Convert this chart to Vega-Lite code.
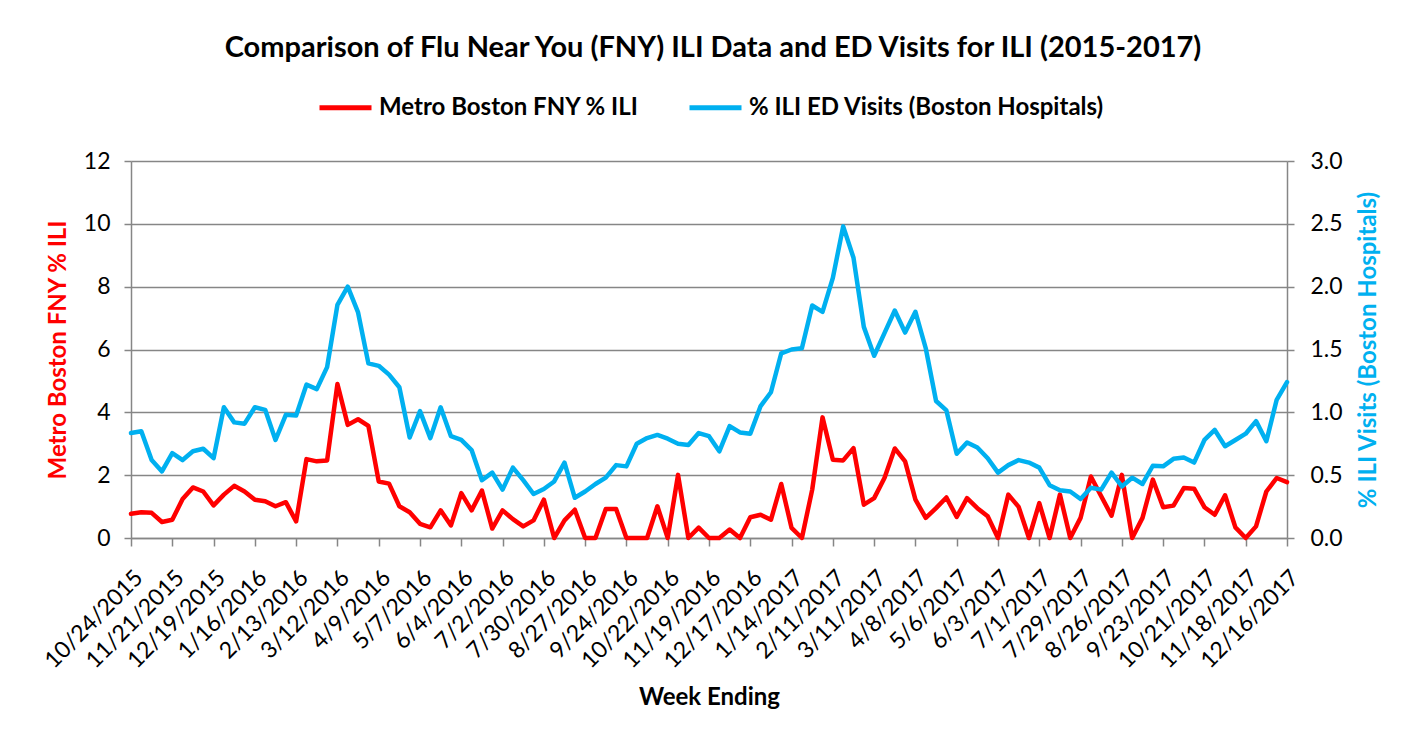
{
  "$schema": "https://vega.github.io/schema/vega-lite/v6.json",
  "width": 1156,
  "height": 377,
  "autosize": "none",
  "padding": {"left": 131, "top": 161, "right": 136, "bottom": 204},
  "background": "white",
  "title": {
    "text": "Comparison of Flu Near You (FNY) ILI Data and ED Visits for ILI (2015-2017)",
    "fontSize": 29,
    "font": "Lato",
    "fontWeight": "bold",
    "color": "#000000",
    "anchor": "middle",
    "dx": 4,
    "offset": 16
  },
  "data": {
    "values": [
      {"week": "10/24/2015", "fny": 0.77, "ed": 0.835},
      {"week": "10/31/2015", "fny": 0.82, "ed": 0.85},
      {"week": "11/7/2015", "fny": 0.80, "ed": 0.62},
      {"week": "11/14/2015", "fny": 0.51, "ed": 0.53},
      {"week": "11/21/2015", "fny": 0.58, "ed": 0.675},
      {"week": "11/28/2015", "fny": 1.24, "ed": 0.62},
      {"week": "12/5/2015", "fny": 1.61, "ed": 0.69},
      {"week": "12/12/2015", "fny": 1.48, "ed": 0.71},
      {"week": "12/19/2015", "fny": 1.04, "ed": 0.635},
      {"week": "12/26/2015", "fny": 1.38, "ed": 1.04},
      {"week": "1/2/2016", "fny": 1.66, "ed": 0.92},
      {"week": "1/9/2016", "fny": 1.48, "ed": 0.91},
      {"week": "1/16/2016", "fny": 1.22, "ed": 1.04},
      {"week": "1/23/2016", "fny": 1.17, "ed": 1.02},
      {"week": "1/30/2016", "fny": 1.01, "ed": 0.78},
      {"week": "2/6/2016", "fny": 1.14, "ed": 0.98},
      {"week": "2/13/2016", "fny": 0.53, "ed": 0.975},
      {"week": "2/20/2016", "fny": 2.51, "ed": 1.22},
      {"week": "2/27/2016", "fny": 2.44, "ed": 1.185},
      {"week": "3/5/2016", "fny": 2.47, "ed": 1.36},
      {"week": "3/12/2016", "fny": 4.90, "ed": 1.855},
      {"week": "3/19/2016", "fny": 3.60, "ed": 2.0},
      {"week": "3/26/2016", "fny": 3.78, "ed": 1.795},
      {"week": "4/2/2016", "fny": 3.57, "ed": 1.39},
      {"week": "4/9/2016", "fny": 1.80, "ed": 1.37},
      {"week": "4/16/2016", "fny": 1.73, "ed": 1.30},
      {"week": "4/23/2016", "fny": 1.01, "ed": 1.20},
      {"week": "4/30/2016", "fny": 0.82, "ed": 0.80},
      {"week": "5/7/2016", "fny": 0.45, "ed": 1.01},
      {"week": "5/14/2016", "fny": 0.34, "ed": 0.795},
      {"week": "5/21/2016", "fny": 0.88, "ed": 1.04},
      {"week": "5/28/2016", "fny": 0.40, "ed": 0.81},
      {"week": "6/4/2016", "fny": 1.43, "ed": 0.78},
      {"week": "6/11/2016", "fny": 0.88, "ed": 0.70},
      {"week": "6/18/2016", "fny": 1.51, "ed": 0.46},
      {"week": "6/25/2016", "fny": 0.30, "ed": 0.52},
      {"week": "7/2/2016", "fny": 0.88, "ed": 0.385},
      {"week": "7/9/2016", "fny": 0.60, "ed": 0.56},
      {"week": "7/16/2016", "fny": 0.37, "ed": 0.46},
      {"week": "7/23/2016", "fny": 0.56, "ed": 0.35},
      {"week": "7/30/2016", "fny": 1.22, "ed": 0.39},
      {"week": "8/6/2016", "fny": 0, "ed": 0.45},
      {"week": "8/13/2016", "fny": 0.56, "ed": 0.60},
      {"week": "8/20/2016", "fny": 0.90, "ed": 0.32},
      {"week": "8/27/2016", "fny": 0, "ed": 0.37},
      {"week": "9/3/2016", "fny": 0, "ed": 0.43},
      {"week": "9/10/2016", "fny": 0.92, "ed": 0.48},
      {"week": "9/17/2016", "fny": 0.92, "ed": 0.58},
      {"week": "9/24/2016", "fny": 0, "ed": 0.57},
      {"week": "10/1/2016", "fny": 0, "ed": 0.75},
      {"week": "10/8/2016", "fny": 0, "ed": 0.795},
      {"week": "10/15/2016", "fny": 1.01, "ed": 0.82},
      {"week": "10/22/2016", "fny": 0, "ed": 0.79},
      {"week": "10/29/2016", "fny": 2.01, "ed": 0.75},
      {"week": "11/5/2016", "fny": 0, "ed": 0.74},
      {"week": "11/12/2016", "fny": 0.33, "ed": 0.835},
      {"week": "11/19/2016", "fny": 0, "ed": 0.81},
      {"week": "11/26/2016", "fny": 0, "ed": 0.69},
      {"week": "12/3/2016", "fny": 0.27, "ed": 0.89},
      {"week": "12/10/2016", "fny": 0, "ed": 0.84},
      {"week": "12/17/2016", "fny": 0.66, "ed": 0.83},
      {"week": "12/24/2016", "fny": 0.74, "ed": 1.05},
      {"week": "12/31/2016", "fny": 0.58, "ed": 1.16},
      {"week": "1/7/2017", "fny": 1.72, "ed": 1.47},
      {"week": "1/14/2017", "fny": 0.32, "ed": 1.50},
      {"week": "1/21/2017", "fny": 0, "ed": 1.51},
      {"week": "1/28/2017", "fny": 1.54, "ed": 1.85},
      {"week": "2/4/2017", "fny": 3.84, "ed": 1.80},
      {"week": "2/11/2017", "fny": 2.49, "ed": 2.07},
      {"week": "2/18/2017", "fny": 2.47, "ed": 2.48},
      {"week": "2/25/2017", "fny": 2.86, "ed": 2.23},
      {"week": "3/4/2017", "fny": 1.06, "ed": 1.68},
      {"week": "3/11/2017", "fny": 1.27, "ed": 1.45},
      {"week": "3/18/2017", "fny": 1.91, "ed": 1.63},
      {"week": "3/25/2017", "fny": 2.85, "ed": 1.81},
      {"week": "4/1/2017", "fny": 2.44, "ed": 1.635},
      {"week": "4/8/2017", "fny": 1.22, "ed": 1.80},
      {"week": "4/15/2017", "fny": 0.64, "ed": 1.51},
      {"week": "4/22/2017", "fny": 0.95, "ed": 1.09},
      {"week": "4/29/2017", "fny": 1.29, "ed": 1.015},
      {"week": "5/6/2017", "fny": 0.67, "ed": 0.67},
      {"week": "5/13/2017", "fny": 1.27, "ed": 0.76},
      {"week": "5/20/2017", "fny": 0.95, "ed": 0.72},
      {"week": "5/27/2017", "fny": 0.69, "ed": 0.635},
      {"week": "6/3/2017", "fny": 0, "ed": 0.52},
      {"week": "6/10/2017", "fny": 1.38, "ed": 0.58},
      {"week": "6/17/2017", "fny": 0.99, "ed": 0.62},
      {"week": "6/24/2017", "fny": 0, "ed": 0.60},
      {"week": "7/1/2017", "fny": 1.11, "ed": 0.56},
      {"week": "7/8/2017", "fny": 0, "ed": 0.42},
      {"week": "7/15/2017", "fny": 1.38, "ed": 0.38},
      {"week": "7/22/2017", "fny": 0, "ed": 0.37},
      {"week": "7/29/2017", "fny": 0.64, "ed": 0.31},
      {"week": "8/5/2017", "fny": 1.96, "ed": 0.40},
      {"week": "8/12/2017", "fny": 1.33, "ed": 0.385},
      {"week": "8/19/2017", "fny": 0.71, "ed": 0.52},
      {"week": "8/26/2017", "fny": 2.01, "ed": 0.41},
      {"week": "9/2/2017", "fny": 0, "ed": 0.48},
      {"week": "9/9/2017", "fny": 0.64, "ed": 0.43},
      {"week": "9/16/2017", "fny": 1.86, "ed": 0.575},
      {"week": "9/23/2017", "fny": 0.98, "ed": 0.57},
      {"week": "9/30/2017", "fny": 1.03, "ed": 0.63},
      {"week": "10/7/2017", "fny": 1.59, "ed": 0.64},
      {"week": "10/14/2017", "fny": 1.57, "ed": 0.60},
      {"week": "10/21/2017", "fny": 0.98, "ed": 0.78},
      {"week": "10/28/2017", "fny": 0.74, "ed": 0.86},
      {"week": "11/4/2017", "fny": 1.36, "ed": 0.73},
      {"week": "11/11/2017", "fny": 0.34, "ed": 0.78},
      {"week": "11/18/2017", "fny": 0, "ed": 0.83},
      {"week": "11/25/2017", "fny": 0.37, "ed": 0.93},
      {"week": "12/2/2017", "fny": 1.48, "ed": 0.77},
      {"week": "12/9/2017", "fny": 1.91, "ed": 1.10},
      {"week": "12/16/2017", "fny": 1.78, "ed": 1.24}
    ]
  },
  "encoding": {
    "x": {
      "field": "week",
      "type": "ordinal",
      "sort": null,
      "scale": {"type": "point", "padding": 0},
      "axis": {
        "title": "Week Ending",
        "titleFontSize": 24,
        "titleFontWeight": "bold",
        "titlePadding": 13,
        "values": ["10/24/2015", "11/21/2015", "12/19/2015", "1/16/2016", "2/13/2016", "3/12/2016", "4/9/2016", "5/7/2016", "6/4/2016", "7/2/2016", "7/30/2016", "8/27/2016", "9/24/2016", "10/22/2016", "11/19/2016", "12/17/2016", "1/14/2017", "2/11/2017", "3/11/2017", "4/8/2017", "5/6/2017", "6/3/2017", "7/1/2017", "7/29/2017", "8/26/2017", "9/23/2017", "10/21/2017", "11/18/2017", "12/16/2017"],
        "labelAngle": -45,
        "labelAlign": "right",
        "labelBaseline": "top",
        "labelFontSize": 23,
        "labelPadding": 20,
        "labelOverlap": false,
        "tickSize": 8,
        "grid": false
      }
    }
  },
  "layer": [
    {
      "mark": {"type": "line", "strokeWidth": 4.5, "strokeJoin": "round", "strokeCap": "round"},
      "encoding": {
        "y": {
          "field": "fny",
          "type": "quantitative",
          "scale": {"domain": [0, 12], "nice": false},
          "axis": {
            "title": "Metro Boston FNY % ILI",
            "titleColor": "#FF0000",
            "titleFontSize": 24,
            "titleFontWeight": "bold",
            "titlePadding": 13,
            "values": [0, 2, 4, 6, 8, 10, 12],
            "labelFontSize": 23,
            "labelPadding": 14,
            "tickSize": 7,
            "grid": true
          }
        },
        "color": {
          "datum": "Metro Boston FNY % ILI",
          "type": "nominal",
          "scale": {"domain": ["Metro Boston FNY % ILI", "% ILI ED Visits (Boston Hospitals)"], "range": ["#FF0000", "#00B0F0"]},
          "legend": {
            "title": null,
            "orient": "none",
            "direction": "horizontal",
            "legendX": 186,
            "legendY": -82,
            "symbolType": "stroke",
            "symbolSize": 2704,
            "symbolStrokeWidth": 5,
            "labelFontSize": 24,
            "labelFontWeight": "bold",
            "labelColor": "#000000",
            "labelLimit": 600,
            "labelOffset": 5,
            "columnPadding": 40
          }
        }
      }
    },
    {
      "mark": {"type": "line", "strokeWidth": 4.5, "strokeJoin": "round", "strokeCap": "round"},
      "encoding": {
        "y": {
          "field": "ed",
          "type": "quantitative",
          "scale": {"domain": [0, 3], "nice": false},
          "axis": {
            "orient": "right",
            "title": "% ILI Visits (Boston Hospitals)",
            "titleColor": "#00B0F0",
            "titleFontSize": 24,
            "titleFontWeight": "bold",
            "titleAngle": 270,
            "titleBaseline": "top",
            "titlePadding": 14,
            "values": [0, 0.5, 1, 1.5, 2, 2.5, 3],
            "format": ".1f",
            "labelFontSize": 23,
            "labelPadding": 16,
            "tickSize": 7,
            "grid": false
          }
        },
        "color": {"datum": "% ILI ED Visits (Boston Hospitals)", "type": "nominal"}
      }
    }
  ],
  "resolve": {"scale": {"y": "independent"}},
  "config": {
    "font": "Lato",
    "view": {"stroke": null},
    "axis": {
      "domainColor": "#868686",
      "domainWidth": 1.5,
      "tickColor": "#868686",
      "tickWidth": 1.5,
      "gridColor": "#868686",
      "gridWidth": 1.5,
      "labelColor": "#000000",
      "titleColor": "#000000",
      "labelFont": "Lato",
      "titleFont": "Lato"
    },
    "legend": {"labelFont": "Lato"}
  }
}
